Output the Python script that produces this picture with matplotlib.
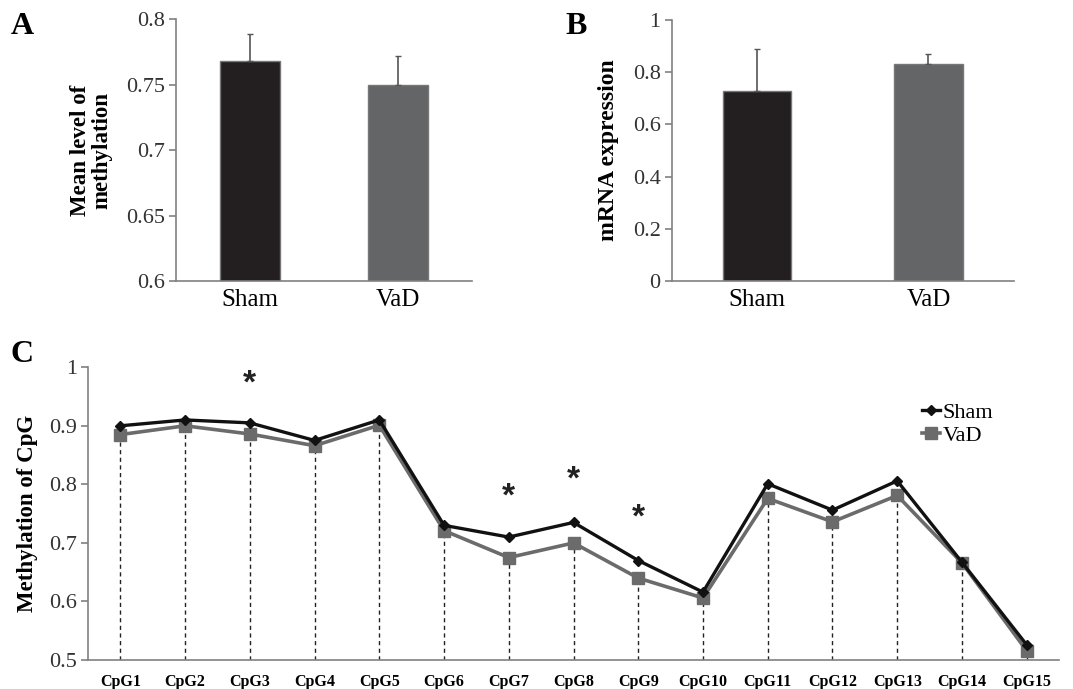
import matplotlib
matplotlib.use("Agg")
import matplotlib.pyplot as plt
import numpy as np

plt.rcParams['font.family'] = ['Liberation Serif', 'DejaVu Serif']

# Panel A / B data
groups = ["Sham", "VaD"]
meth_mean = [0.768, 0.750]
meth_err = [0.021, 0.022]
mrna_mean = [0.728, 0.830]
mrna_err = [0.160, 0.038]
bar_colors = ["#231f20", "#646567"]

# Panel C data
cpg_labels = ["CpG1", "CpG2", "CpG3", "CpG4", "CpG5", "CpG6", "CpG7", "CpG8",
              "CpG9", "CpG10", "CpG11", "CpG12", "CpG13", "CpG14", "CpG15"]
sham_cpg = [0.900, 0.910, 0.905, 0.875, 0.910, 0.730, 0.710, 0.735, 0.670,
            0.616, 0.801, 0.756, 0.806, 0.667, 0.526]
vad_cpg = [0.885, 0.900, 0.886, 0.866, 0.901, 0.721, 0.675, 0.700, 0.640,
           0.606, 0.776, 0.736, 0.781, 0.666, 0.516]
star_cpg = ["CpG3", "CpG7", "CpG8", "CpG9"]
star_y = [0.972, 0.778, 0.808, 0.743]

spine_c = "#808080"

fig = plt.figure(figsize=(10.73, 6.89), dpi=100)

def style(ax, ytick_size=16):
    for s in ["top", "right"]:
        ax.spines[s].set_visible(False)
    for s in ["left", "bottom"]:
        ax.spines[s].set_color(spine_c)
        ax.spines[s].set_linewidth(1.2)
    ax.tick_params(axis="y", color=spine_c, length=5, width=1.2, labelsize=ytick_size,
                   labelcolor="#333333", pad=3)
    ax.tick_params(axis="x", length=0, labelsize=18, pad=6)

# Panel A
axA = fig.add_axes([0.164, 0.592, 0.276, 0.380])
xA = np.arange(len(groups)) + 0.5
axA.bar(xA, meth_mean, width=0.4, color=bar_colors, edgecolor="#777777", linewidth=1)
axA.errorbar(xA, meth_mean, yerr=[[0, 0], meth_err], fmt="none", ecolor="#555555",
             elinewidth=1.2, capsize=2)
axA.set_xlim(0, 2)
axA.set_ylim(0.6, 0.8)
axA.set_yticks([0.6, 0.65, 0.7, 0.75, 0.8])
axA.set_yticklabels(["0.6", "0.65", "0.7", "0.75", "0.8"])
axA.set_xticks(xA)
axA.set_xticklabels(groups)
style(axA)
axA.set_ylabel("Mean level of\nmethylation", fontsize=16.5, fontweight="bold", labelpad=10,
               linespacing=1.0)

# Panel B
axB = fig.add_axes([0.626, 0.592, 0.319, 0.379])
axB.bar(xA, mrna_mean, width=0.4, color=bar_colors, edgecolor="#777777", linewidth=1)
axB.errorbar(xA, mrna_mean, yerr=[[0, 0], mrna_err], fmt="none", ecolor="#555555",
             elinewidth=1.2, capsize=2)
axB.set_xlim(0, 2)
axB.set_ylim(0, 1)
axB.set_yticks([0, 0.2, 0.4, 0.6, 0.8, 1])
axB.set_yticklabels(["0", "0.2", "0.4", "0.6", "0.8", "1"])
axB.set_xticks(xA)
axB.set_xticklabels(groups)
style(axB)
axB.set_ylabel("mRNA expression", fontsize=17, fontweight="bold", labelpad=10)

# Panel C
axC = fig.add_axes([0.082, 0.042, 0.905, 0.425])
xC = np.arange(1, len(cpg_labels) + 1)
axC.vlines(xC, 0.5, vad_cpg, colors="#222222", linestyles=(0, (3, 2.5)), linewidth=1.0)
axC.plot(xC, vad_cpg, color="#6b6b6b", linewidth=2.6, marker="s", markersize=8,
         label="VaD", zorder=3)
axC.plot(xC, sham_cpg, color="#111111", linewidth=2.4, marker="D", markersize=5,
         label="Sham", zorder=4)
for lab, yv in zip(star_cpg, star_y):
    axC.text(cpg_labels.index(lab) + 1, yv, "*", ha="center", va="center", fontsize=24,
             family="Liberation Sans", fontweight="bold", color="#222222")
axC.set_xlim(0.5, 15.5)
axC.set_ylim(0.5, 1.0)
axC.set_yticks([0.5, 0.6, 0.7, 0.8, 0.9, 1.0])
axC.set_yticklabels(["0.5", "0.6", "0.7", "0.8", "0.9", "1"])
axC.set_xticks(xC)
axC.set_xticklabels(cpg_labels, fontweight="bold")
style(axC)
axC.tick_params(axis="x", labelsize=11.5, pad=10)
axC.set_ylabel("Methylation of CpG", fontsize=16.5, fontweight="bold", labelpad=8)
h, l = axC.get_legend_handles_labels()
axC.legend([h[1], h[0]], [l[1], l[0]], loc="upper left", bbox_to_anchor=(0.85, 0.91),
           frameon=False, fontsize=16, handlelength=0.8, handletextpad=0.1,
           labelspacing=0.1, borderaxespad=0)

# Panel letters
fig.text(0.010, 0.962, "A", fontsize=23, fontweight="bold", va="center")
fig.text(0.527, 0.962, "B", fontsize=23, fontweight="bold", va="center")
fig.text(0.010, 0.485, "C", fontsize=23, fontweight="bold", va="center")

fig.savefig("out.png", dpi=100)
